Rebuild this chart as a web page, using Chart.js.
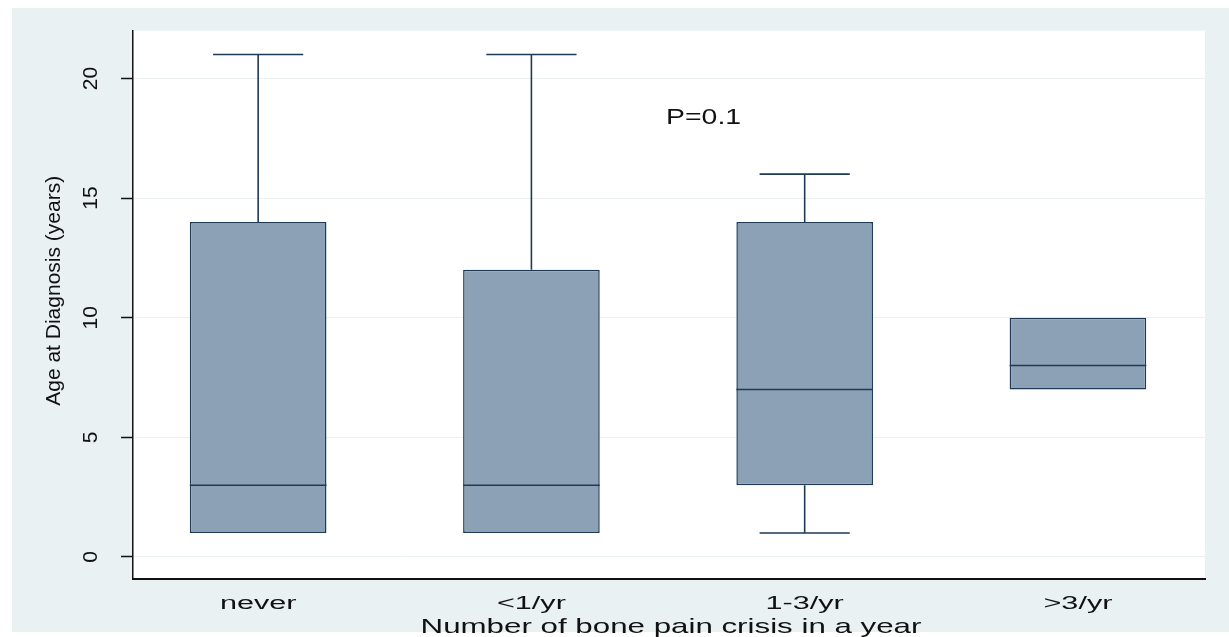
<!DOCTYPE html>
<html>
<head>
<meta charset="utf-8">
<title>Age at diagnosis by bone pain crisis frequency</title>
<script src="https://cdn.jsdelivr.net/npm/chart.js@4.4.1/dist/chart.umd.min.js"></script>
<style>
  html, body { margin: 0; padding: 0; background: #ffffff; }
  #wrap { width: 1229px; height: 637px; }
  canvas { display: block; }
</style>
</head>
<body>
<div id="wrap"><canvas id="chart" width="1229" height="637"></canvas></div>
<script>
// Box plot summaries per group (years)
const categories   = ['never', '<1/yr', '1-3/yr', '>3/yr'];
const whiskerLow   = [1, 1, 1, 7];
const quartile1    = [1, 1, 3, 7];
const medians      = [3, 3, 7, 8];
const quartile3    = [14, 12, 14, 10];
const whiskerHigh  = [21, 21, 16, 10];
const yTicks       = [0, 5, 10, 15, 20];

const yTitle = 'Age at Diagnosis (years)';
const xTitle = 'Number of bone pain crisis in a year';
const pNote  = { text: 'P=0.1', x: 2.63, y: 18.1 };

// Drawing constants
const BOX_HALF = 0.25;   // half box width, in category units
const CAP_HALF = 0.165;  // half whisker-cap width
const NAVY = '#1f3a56';
const BOX_FILL = '#8ca1b6';
const BG = '#eaf1f3';
const FONT = '"Liberation Sans", Arial, sans-serif';

// Build segment lists (null y breaks the line between segments)
const medianPts = [];
const whiskerPts = [];
categories.forEach((c, i) => {
  const x = i + 1;
  medianPts.push({x: x - BOX_HALF, y: medians[i]}, {x: x + BOX_HALF, y: medians[i]}, {x: x, y: null});
  if (whiskerHigh[i] > quartile3[i]) {
    whiskerPts.push({x: x, y: quartile3[i]}, {x: x, y: whiskerHigh[i]}, {x: x, y: null});
    whiskerPts.push({x: x - CAP_HALF, y: whiskerHigh[i]}, {x: x + CAP_HALF, y: whiskerHigh[i]}, {x: x, y: null});
  }
  if (whiskerLow[i] < quartile1[i]) {
    whiskerPts.push({x: x, y: quartile1[i]}, {x: x, y: whiskerLow[i]}, {x: x, y: null});
    whiskerPts.push({x: x - CAP_HALF, y: whiskerLow[i]}, {x: x + CAP_HALF, y: whiskerLow[i]}, {x: x, y: null});
  }
});

// Background panels: outer graph region and white plot region
const backdrop = {
  id: 'backdrop',
  beforeDraw(chart) {
    const {ctx, chartArea: a, width, height} = chart;
    ctx.save();
    ctx.fillStyle = '#ffffff';
    ctx.fillRect(0, 0, width, height);
    ctx.fillStyle = BG;
    ctx.fillRect(12, 8, width - 12, height - 13);
    ctx.fillStyle = '#ffffff';
    ctx.fillRect(a.left, a.top, a.right - a.left, a.bottom - a.top);
    ctx.restore();
  }
};

// Text drawn with a horizontal stretch: category labels, titles, note
function stretchedText(ctx, text, x, y, sx, font, align) {
  ctx.save();
  ctx.translate(x, y);
  ctx.scale(sx, 1);
  ctx.font = font;
  ctx.textAlign = align || 'center';
  ctx.textBaseline = 'alphabetic';
  ctx.fillStyle = '#111111';
  ctx.fillText(text, 0, 0);
  ctx.restore();
}

const labels = {
  id: 'labels',
  afterDraw(chart) {
    const {ctx, chartArea: a} = chart;
    const xs = chart.scales.x, ys = chart.scales.y;
    xs.ticks.forEach(t => {
      const px = xs.getPixelForValue(t.value);
      stretchedText(ctx, categories[t.value - 1], px, xs.top + 30, 1.7, '18px ' + FONT);
    });
    stretchedText(ctx, xTitle, (a.left + a.right) / 2 + 2, xs.top + 54, 1.49, '21px ' + FONT);
    // rotated axis title
    ctx.save();
    ctx.translate(ys.left + 60, (a.top + a.bottom) / 2 - 14);
    ctx.rotate(-Math.PI / 2);
    ctx.font = '21px ' + FONT;
    ctx.textAlign = 'center';
    ctx.textBaseline = 'alphabetic';
    ctx.fillStyle = '#111111';
    ctx.fillText(yTitle, 0, 0);
    ctx.restore();
    // test result note
    stretchedText(ctx, pNote.text, xs.getPixelForValue(pNote.x), ys.getPixelForValue(pNote.y), 1.29, '22px ' + FONT);
  }
};

new Chart(document.getElementById('chart'), {
  type: 'bar',
  data: {
    datasets: [
      {
        type: 'bar',
        label: 'IQR',
        data: categories.map((c, i) => ({x: i + 1, y: [quartile1[i], quartile3[i]]})),
        backgroundColor: BOX_FILL,
        borderColor: NAVY,
        borderWidth: 1.5,
        borderSkipped: false,
        barPercentage: 0.5,
        categoryPercentage: 1.0,
        order: 3
      },
      {
        type: 'line',
        label: 'Median',
        data: medianPts,
        borderColor: NAVY,
        borderWidth: 1.6,
        pointRadius: 0,
        spanGaps: false,
        tension: 0,
        order: 1
      },
      {
        type: 'line',
        label: 'Whiskers',
        data: whiskerPts,
        borderColor: NAVY,
        borderWidth: 1.6,
        pointRadius: 0,
        spanGaps: false,
        tension: 0,
        order: 2
      }
    ]
  },
  options: {
    responsive: false,
    animation: false,
    events: [],
    layout: { padding: { left: 0, top: 29, right: 24, bottom: 0 } },
    plugins: {
      legend: { display: false },
      tooltip: { enabled: false }
    },
    scales: {
      x: {
        type: 'linear',
        min: 1 - 0.458,
        max: categories.length + 0.465,
        offset: false,
        afterBuildTicks: s => { s.ticks = categories.map((c, i) => ({value: i + 1})); },
        afterFit: s => { s.height = 58; },
        grid: { display: false, drawTicks: false },
        border: { display: true, color: '#111111', width: 2 },
        ticks: { display: false, callback: v => categories[v - 1] }
      },
      y: {
        type: 'linear',
        min: -0.92,
        max: 22,
        afterBuildTicks: s => { s.ticks = yTicks.map(v => ({value: v})); },
        afterFit: s => { s.width = 133; },
        grid: {
          color: '#ebf0f2',
          lineWidth: 1,
          drawTicks: true,
          tickLength: 12,
          tickColor: '#111111',
          tickWidth: 1.5
        },
        border: { display: true, color: '#111111', width: 1.5 },
        ticks: {
          minRotation: 90,
          maxRotation: 90,
          crossAlign: 'center',
          padding: 18,
          color: '#111111',
          font: { family: FONT, size: 21 }
        }
      }
    }
  },
  plugins: [backdrop, labels]
});
</script>
</body>
</html>
